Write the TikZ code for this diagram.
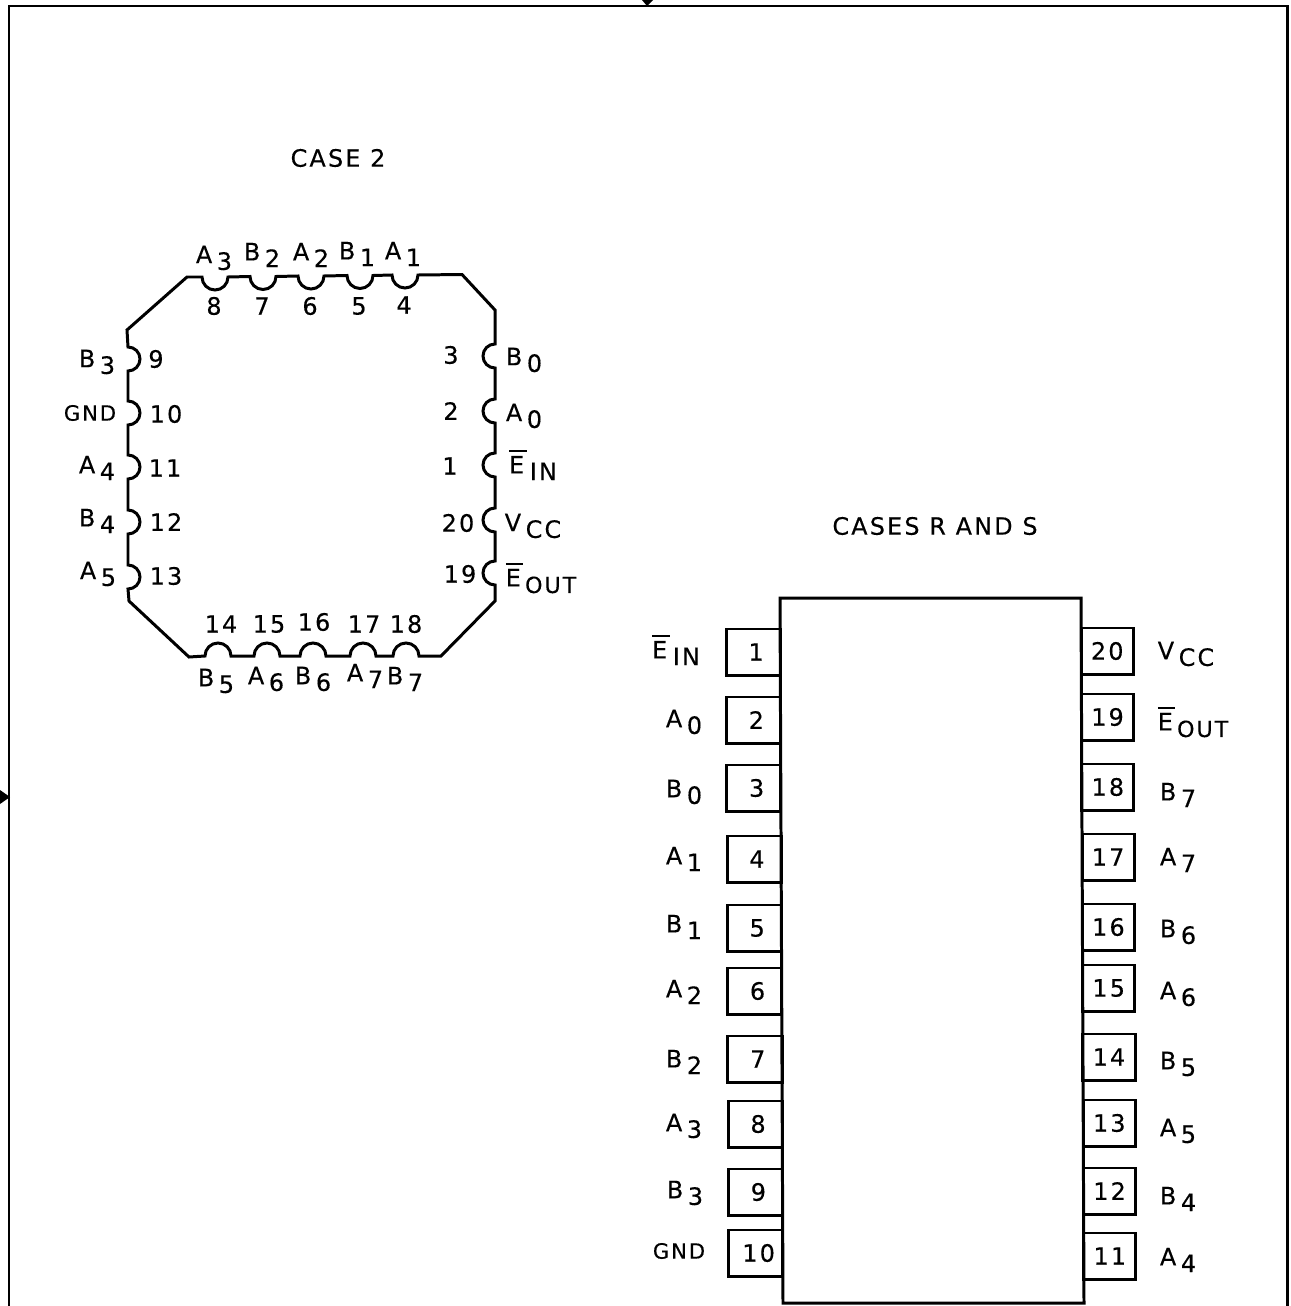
\documentclass[tikz,border=0pt]{standalone}
\usepackage{fontspec}
\setmainfont[LetterSpace=9,FakeBold=0.3]{DejaVu Sans}
\usetikzlibrary{positioning}
\newcommand{\pinname}[2]{#1\hspace{1.3pt}\raisebox{-1.9pt}{#2}}
\newcommand{\barname}[2]{\rlap{\rule[6pt]{5pt}{0.7pt}}E\hspace{1.6pt}\raisebox{-1.9pt}{#2}}
\newcommand{\outname}{\rlap{\rule[6pt]{5pt}{0.7pt}}E\hspace{1.2pt}\raisebox{-1.9pt}{\fontsize{6.3}{8}\selectfont OUT}}
\newcommand{\gndname}{{\fontsize{6}{7}\selectfont GND}}
\tikzset{
	every picture/.style={line width=0.85pt},
	lbl/.style={font=\fontsize{6.8}{8}\selectfont, inner sep=0pt},
	pinbox/.style={draw, font=\fontsize{6.8}{8}\selectfont, inner sep=0pt, minimum height=0.46cm}
}
\begin{document}
\begin{tikzpicture}[x=0.01cm, y=-0.01cm]
	\useasboundingbox (0,0) rectangle (1290,1306);
	% outer frame, open at the bottom
	\draw (9,1306) -- (9,6) -- (1287,6) -- (1287,1306);
	\fill (642,0) -- (653,0) -- (647,6) -- cycle;
	\fill (0,790) -- (10,797) -- (0,804) -- cycle;

	% case 2 outline
	\draw (187,277)
		\foreach \bx/\ty in {215/277,263/276.5,311/276,360/275.5,405/275} { -- (\bx-13,\ty) arc[start angle=180, end angle=0, radius=13] }
		-- (462,274.5) -- (495,310)
		\foreach \by in {356,411,465,520,573} { -- (495,\by-12) arc[start angle=270, end angle=90, radius=12] }
		-- (495,601) -- (441,656)
		\foreach \bx in {406,363,313,267,218} { -- (\bx+13,656) arc[start angle=0, end angle=-180, radius=13] }
		-- (189,657) -- (129,601)
		\foreach \by in {577,522,467,413,359} { -- (128,\by+12) arc[start angle=90, end angle=-90, radius=12] }
		-- (127,330) -- cycle;

	% case 2 numbers
	\foreach \n/\cx/\cy in {8/214/306,7/262/306,6/310/306,5/359/306,4/404/305,
		3/451/355,2/451/411,1/450/466,20/458/523,19/460/574,
		9/156/359,10/166/414,11/165/468,12/166/522,13/166/576,
		14/221/624,15/269/624,16/314/622,17/364/624,18/406/624}
		\node[lbl] (casenum\n) at (\cx,\cy) {\n};

	% case 2 names
	\foreach \k/\cx/\cy/\nm in {a3/214/258/{\pinname{A}{3}},b2/262/255/{\pinname{B}{2}},a2/311/255/{\pinname{A}{2}},b1/357/254/{\pinname{B}{1}},a1/403/254/{\pinname{A}{1}},
		b3/97/362/{\pinname{B}{3}},gnd/90/413/{\gndname},a4/97/468/{\pinname{A}{4}},b4/97/521/{\pinname{B}{4}},a5/98/574/{\pinname{A}{5}},
		b0/524/360/{\pinname{B}{0}},a0/524/416/{\pinname{A}{0}},ein/533/465/{\barname{E}{IN}},vcc/533/526/{\pinname{V}{CC}},eout/541/578/{\outname},
		b5/216/681/{\pinname{B}{5}},a6/266/679/{\pinname{A}{6}},b6/313/679/{\pinname{B}{6}},a7/365/676/{\pinname{A}{7}},b7/405/679/{\pinname{B}{7}}}
		\node[lbl] (casename\k) at (\cx,\cy) {\nm};

	\node[lbl] (casetitle) at (338,158) {CASE 2};
	\node[lbl] (rstitle) at (935,526) {CASES R AND S};

	% cases R and S body
	\draw (780,598) -- (1081,598) -- (1084,1303) -- (783,1303) -- cycle;

	\foreach \n/\cy in {1/652,2/720,3/788,4/859,5/928,6/991,7/1059,8/1124,9/1192,10/1253}
		\node[pinbox, minimum width=0.54cm] (pin\n) at ({753+(\cy-598)*0.0043},\cy) {\hspace{1.6pt}\raisebox{-0.5pt}{\n}};
	\foreach \n/\cy in {20/651,19/717,18/787,17/857,16/927,15/988,14/1057,13/1123,12/1191,11/1256}
		\node[pinbox, minimum width=0.52cm] (pin\n) at ({1107+(\cy-598)*0.0043},\cy) {\n};

	% cases R and S names
	\foreach \k/\cx/\cy/\nm in {ein/676/650/{\barname{E}{IN}},a0/684/722/{\pinname{A}{0}},b0/684/792/{\pinname{B}{0}},a1/684/859/{\pinname{A}{1}},b1/684/927/{\pinname{B}{1}},
		a2/684/992/{\pinname{A}{2}},b2/684/1062/{\pinname{B}{2}},a3/684/1126/{\pinname{A}{3}},b3/685/1193/{\pinname{B}{3}},gnd/679/1251/{\gndname},
		vcc/1186/654/{\pinname{V}{CC}},eout/1193/722/{\outname},b7/1178/795/{\pinname{B}{7}},a7/1178/860/{\pinname{A}{7}},b6/1178/932/{\pinname{B}{6}},
		a6/1178/994/{\pinname{A}{6}},b5/1178/1064/{\pinname{B}{5}},a5/1178/1131/{\pinname{A}{5}},b4/1178/1199/{\pinname{B}{4}},a4/1178/1260/{\pinname{A}{4}}}
		\node[lbl] (rsname\k) at (\cx,\cy) {\nm};
\end{tikzpicture}
\end{document}
